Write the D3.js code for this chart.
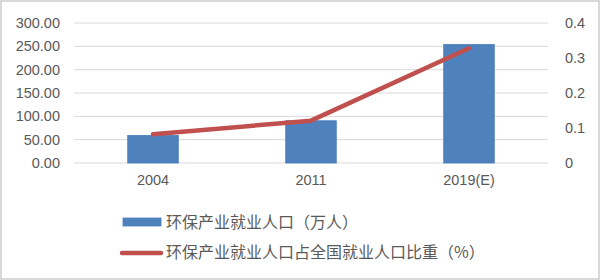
<!DOCTYPE html>
<html>
<head>
<meta charset="utf-8">
<script src="https://cdn.jsdelivr.net/npm/d3@7/dist/d3.min.js"></script>
<style>
  html, body { margin: 0; padding: 0; background: #fff; }
  svg { display: block; }
  text { font-family: "Liberation Sans", Arial, sans-serif; fill: #595959; }
  .cjk { font-family: "Noto Sans CJK SC", sans-serif; }
</style>
</head>
<body>
<svg id="chart" width="600" height="280"></svg>
<script>
// Categories and series
const categories = ["2004", "2011", "2019(E)"];
const employment = [59, 90.5, 254];        // 环保产业就业人口（万人）
const share = [0.082, 0.121, 0.328];       // 占全国就业人口比重（%）
const leftTicks = [0, 50, 100, 150, 200, 250, 300];
const rightTicks = [0, 0.1, 0.2, 0.3, 0.4];
const seriesNames = ["环保产业就业人口（万人）", "环保产业就业人口占全国就业人口比重（%）"];

const svg = d3.select("#chart");
const W = 600, H = 280;
const plot = { left: 74, right: 548, top: 23, bottom: 163 };

// Outer frame
svg.append("rect")
  .attr("x", 1).attr("y", 1).attr("width", W - 2).attr("height", H - 2)
  .attr("fill", "#fff").attr("stroke", "#d9d9d9").attr("stroke-width", 2);

const x = d3.scaleBand().domain(categories).range([plot.left, plot.right]).paddingInner(0.68).paddingOuter(0.34);
const yL = d3.scaleLinear().domain([0, 300]).range([plot.bottom, plot.top]);
const yR = d3.scaleLinear().domain([0, 0.4]).range([plot.bottom, plot.top]);

// Gridlines
svg.append("g").selectAll("line").data(leftTicks).join("line")
  .attr("x1", plot.left).attr("x2", plot.right)
  .attr("y1", d => yL(d)).attr("y2", d => yL(d))
  .attr("stroke", "#d9d9d9").attr("stroke-width", 1);

// Left axis
const leftAxis = svg.append("g").attr("transform", `translate(${plot.left},0)`)
  .call(d3.axisLeft(yL).tickValues(leftTicks).tickFormat(d3.format(".2f")).tickSize(0).tickPadding(14));
leftAxis.select(".domain").remove();
leftAxis.selectAll("text").style("font-size", "14.5px").attr("fill", "#595959");

// Right axis
const rightAxis = svg.append("g").attr("transform", `translate(${plot.right},0)`)
  .call(d3.axisRight(yR).tickValues(rightTicks).tickFormat(d => d === 0 ? "0" : d3.format(".1f")(d)).tickSize(0).tickPadding(17));
rightAxis.select(".domain").remove();
rightAxis.selectAll("text").style("font-size", "14.5px").attr("fill", "#595959");

// Bottom axis labels
const xAxis = svg.append("g").attr("transform", `translate(0,${plot.bottom})`)
  .call(d3.axisBottom(x).tickSize(0).tickPadding(12));
xAxis.select(".domain").remove();
xAxis.selectAll("text").style("font-size", "14.5px").attr("fill", "#595959");

// Bars
svg.append("g").selectAll("rect").data(categories).join("rect")
  .attr("x", d => x(d))
  .attr("width", x.bandwidth())
  .attr("y", (d, i) => yL(employment[i]))
  .attr("height", (d, i) => yL(0) - yL(employment[i]))
  .attr("fill", "#4f81bd").attr("stroke", "#4a7ebb").attr("stroke-width", 0.8);

// Line series
const line = d3.line()
  .x((d, i) => x(categories[i]) + x.bandwidth() / 2)
  .y(d => yR(d));
svg.append("path").datum(share)
  .attr("d", line)
  .attr("fill", "none").attr("stroke", "#c0504d").attr("stroke-width", 4.5)
  .attr("stroke-linecap", "round").attr("stroke-linejoin", "round");

// Legend
const lg = svg.append("g");
lg.append("rect").attr("x", 123).attr("y", 218).attr("width", 38).attr("height", 8)
  .attr("fill", "#4f81bd").attr("stroke", "#4a7ebb").attr("stroke-width", 0.8);
lg.append("line").attr("x1", 122).attr("x2", 161).attr("y1", 253).attr("y2", 253)
  .attr("stroke", "#c0504d").attr("stroke-width", 4.5).attr("stroke-linecap", "round");
lg.selectAll("text").data(seriesNames).join("text")
  .attr("class", "cjk")
  .attr("x", 166)
  .attr("y", (d, i) => i === 0 ? 222 : 252)
  .attr("dy", "0.35em")
  .style("font-size", "16px")
  .text(d => d);
</script>
</body>
</html>
